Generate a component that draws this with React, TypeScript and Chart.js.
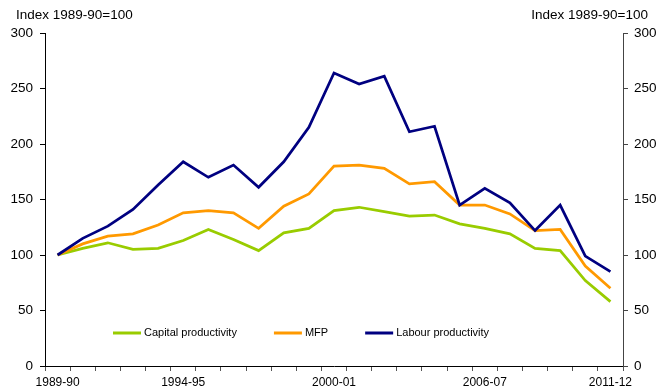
import React, { useEffect, useRef } from "react";
import { Chart, registerables } from "chart.js";

Chart.register(...registerables);

const categories = [
  "1989-90", "1990-91", "1991-92", "1992-93", "1993-94", "1994-95", "1995-96", "1996-97",
  "1997-98", "1998-99", "1999-00", "2000-01", "2001-02", "2002-03", "2003-04", "2004-05",
  "2005-06", "2006-07", "2007-08", "2008-09", "2009-10", "2010-11", "2011-12",
];
const shownTickLabels = ["1989-90", "1994-95", "2000-01", "2006-07", "2011-12"];

const capitalProductivity = [
  100, 106, 111, 105, 106, 113, 123, 114, 104, 120, 124, 140, 143, 139, 135, 136,
  128, 124, 119, 106, 104, 77, 58,
];
const mfp = [
  100, 110, 117, 119, 127, 138, 140, 138, 124, 144, 155, 180, 181, 178, 164, 166,
  145, 145, 137, 122, 123, 90, 70,
];
const labourProductivity = [
  100, 115, 126, 141, 163, 184, 170, 181, 161, 184, 215, 264, 254, 261, 211, 216,
  145, 160, 147, 122, 145, 99, 85,
];
const seriesNames = ["Capital productivity", "MFP", "Labour productivity"];
const axisTitle = "Index 1989-90=100";

const COLORS = ["#99CC00", "#FF9900", "#000080"];
const FONT = "'Liberation Sans', Arial, sans-serif";

const overlayPlugin = {
  id: "overlay",
  afterDraw(chart: any) {
    const ctx = chart.ctx;
    const area = chart.chartArea;
    ctx.save();
    ctx.fillStyle = "#000";
    ctx.font = `13.5px ${FONT}`;
    ctx.textBaseline = "middle";
    ctx.textAlign = "left";
    ctx.fillText(axisTitle, 16, 15.5);
    ctx.textAlign = "right";
    ctx.fillText(axisTitle, 648, 15.5);
    ctx.font = `11px ${FONT}`;
    ctx.textAlign = "left";
    const y = area.bottom - 33;
    let x = area.left + 68;
    seriesNames.forEach((name, i) => {
      ctx.strokeStyle = COLORS[i];
      ctx.lineWidth = 3;
      ctx.beginPath();
      ctx.moveTo(x, y);
      ctx.lineTo(x + 28, y);
      ctx.stroke();
      ctx.fillStyle = "#000";
      ctx.fillText(name, x + 31, y);
      x += 31 + ctx.measureText(name).width + 37;
    });
    ctx.restore();
  },
};

export default function App() {
  const ref = useRef<HTMLCanvasElement>(null);
  useEffect(() => {
    if (!ref.current) return;
    const yRange = { min: 0, max: 300 };
    const chart = new Chart(ref.current, {
      type: "line",
      data: {
        labels: categories,
        datasets: [
          { label: seriesNames[2], data: labourProductivity, borderColor: COLORS[2], order: 0 },
          { label: seriesNames[1], data: mfp, borderColor: COLORS[1], order: 1 },
          { label: seriesNames[0], data: capitalProductivity, borderColor: COLORS[0], order: 2 },
        ].map((d) => ({
          ...d,
          borderWidth: 2.75,
          pointRadius: 0,
          tension: 0,
          fill: false,
          backgroundColor: d.borderColor,
        })),
      },
      options: {
        responsive: false,
        animation: false,
        layout: { padding: { top: 33, left: 0, right: 0, bottom: 0 } },
        plugins: { legend: { display: false }, tooltip: { enabled: false } },
        scales: {
          x: {
            offset: true,
            grid: {
              offset: true,
              drawOnChartArea: false,
              drawTicks: true,
              tickLength: 5,
              color: "#555",
            },
            border: { display: true, color: "#000", width: 1 },
            ticks: {
              autoSkip: false,
              maxRotation: 0,
              minRotation: 0,
              padding: 4,
              color: "#000",
              font: { family: FONT, size: 12 },
              callback: function (this: any, val: any, idx: number) {
                const lab = categories[idx];
                return shownTickLabels.includes(lab) ? lab : "";
              },
            },
            afterFit: (s: any) => {
              s.height = 24;
            },
          },
          y: {
            position: "left",
            ...yRange,
            grid: { drawOnChartArea: false, tickLength: 5, color: "#000" },
            border: { display: true, color: "#000", width: 1 },
            ticks: {
              stepSize: 50,
              padding: 7,
              color: "#000",
              font: { family: FONT, size: 13.5 },
            },
            afterFit: (s: any) => {
              s.width = 45;
            },
          },
          y2: {
            position: "right",
            ...yRange,
            grid: { drawOnChartArea: false, tickLength: 5, color: "#444" },
            border: { display: true, color: "#444", width: 1 },
            ticks: {
              stepSize: 50,
              padding: 6,
              color: "#000",
              font: { family: FONT, size: 13.5 },
            },
            afterFit: (s: any) => {
              s.width = 36;
            },
          },
        },
      },
      plugins: [overlayPlugin],
    } as any);
    return () => chart.destroy();
  }, []);
  return (
    <div style={{ position: "fixed", left: 0, top: 0, width: 659, height: 390, background: "#fff" }}>
      <canvas ref={ref} width={659} height={390} style={{ display: "block" }} />
    </div>
  );
}
